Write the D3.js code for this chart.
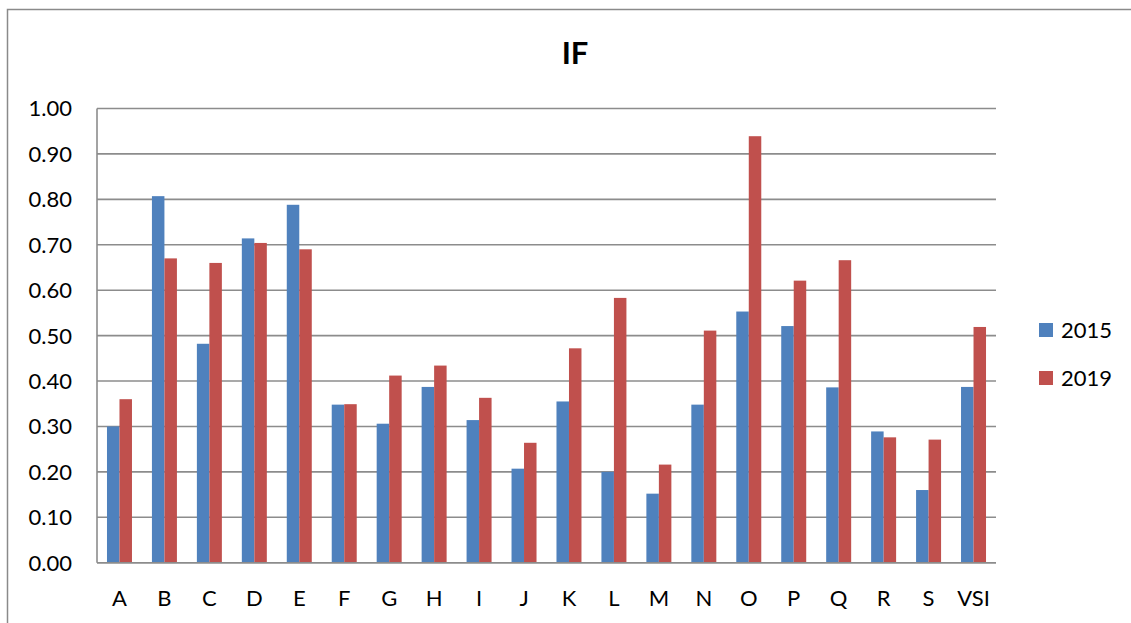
<!DOCTYPE html>
<html>
<head>
<meta charset="utf-8">
<script src="https://cdn.jsdelivr.net/npm/d3@7"></script>
<style>
  html, body { margin: 0; padding: 0; background: #fff; }
  svg { display: block; font-family: Lato, "Liberation Sans", sans-serif; }
</style>
</head>
<body>
<svg id="chart" width="1131" height="623"></svg>
<script>
const categories = ["A","B","C","D","E","F","G","H","I","J","K","L","M","N","O","P","Q","R","S","VSI"];
const series2015 = [0.30,0.807,0.482,0.714,0.788,0.348,0.306,0.387,0.314,0.207,0.355,0.200,0.152,0.348,0.553,0.521,0.386,0.289,0.160,0.387];
const series2019 = [0.360,0.670,0.660,0.704,0.690,0.349,0.412,0.434,0.363,0.264,0.472,0.583,0.216,0.511,0.939,0.621,0.666,0.276,0.271,0.519];
const seriesNames = ["2015","2019"];
const seriesColors = ["#4F81BD","#C0504D"];
const yTicks = [0,0.1,0.2,0.3,0.4,0.5,0.6,0.7,0.8,0.9,1.0];
const chartTitle = "IF";

(function () {
const svg = d3.select("#chart");
const pLeft = 97, pRight = 996, pTop = 108.5, pBottom = 562.7;

const x = d3.scaleBand().domain(categories).range([pLeft, pRight]).paddingInner(0).paddingOuter(0);
const y = d3.scaleLinear().domain([0, 1]).range([pBottom, pTop]);
const barW = x.bandwidth() * 0.278;

// outer frame
svg.append("path")
  .attr("d", `M7.5,623 L7.5,9.5 L1131,9.5`)
  .attr("fill", "none").attr("stroke", "#8a8a8a").attr("stroke-width", 1.5);

// title
svg.append("text").attr("x", 575).attr("y", 64)
  .attr("text-anchor", "middle").attr("font-weight", "bold").attr("font-size", 31)
  .attr("fill", "#000").text(chartTitle);

// gridlines
svg.append("g").selectAll("line").data(yTicks).join("line")
  .attr("x1", pLeft).attr("x2", pRight)
  .attr("y1", d => y(d)).attr("y2", d => y(d))
  .attr("stroke", "#8c8c8c").attr("stroke-width", 1.6);

// left axis line
svg.append("line").attr("x1", pLeft).attr("x2", pLeft).attr("y1", pTop).attr("y2", pBottom)
  .attr("stroke", "#8c8c8c").attr("stroke-width", 1.6);

// y tick labels
svg.append("g").selectAll("text").data(yTicks).join("text")
  .attr("x", 72).attr("y", d => y(d)).attr("dy", "0.36em")
  .attr("text-anchor", "end").attr("font-size", 22).attr("fill", "#000")
  .text(d => d3.format(".2f")(d));

// bars
const allSeries = [series2015, series2019];
allSeries.forEach((vals, si) => {
  svg.append("g").selectAll("rect").data(categories).join("rect")
    .attr("x", c => x(c) + x.bandwidth() / 2 - barW + si * barW)
    .attr("y", (c, i) => y(vals[i]))
    .attr("width", barW)
    .attr("height", (c, i) => y(0) - y(vals[i]))
    .attr("fill", seriesColors[si]);
});

// bottom axis line over bars
svg.append("line").attr("x1", pLeft).attr("x2", pRight).attr("y1", pBottom).attr("y2", pBottom)
  .attr("stroke", "#8c8c8c").attr("stroke-width", 1.6);

// x labels
svg.append("g").selectAll("text").data(categories).join("text")
  .attr("x", c => x(c) + x.bandwidth() / 2).attr("y", 605.7)
  .attr("text-anchor", "middle").attr("font-size", 22).attr("fill", "#000")
  .text(c => c);

// legend
const lg = svg.append("g");
seriesNames.forEach((n, i) => {
  lg.append("rect").attr("x", 1039).attr("y", 323 + i * 48).attr("width", 14).attr("height", 14)
    .attr("fill", seriesColors[i]);
  lg.append("text").attr("x", 1061).attr("y", 337.7 + i * 48)
    .attr("font-size", 22).attr("fill", "#000").text(n);
});
})();
</script>
</body>
</html>
